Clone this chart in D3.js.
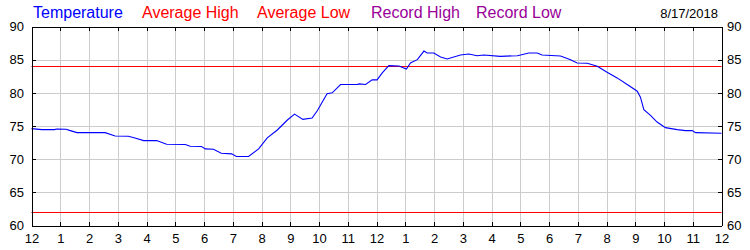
<!DOCTYPE html>
<html>
<head>
<meta charset="utf-8">
<script src="https://cdn.jsdelivr.net/npm/d3@7"></script>
<style>
  body { margin: 0; background: #fff; }
  svg { display: block; font-family: "Liberation Sans", Arial, sans-serif; }
  .grid line { stroke: #cccccc; shape-rendering: crispEdges; }
  .grid path { display: none; }
  .axis path, .axis line { stroke: #000; shape-rendering: crispEdges; }
  .axis text { font-size: 13px; fill: #000; font-family: "Liberation Sans", Arial, sans-serif; }
</style>
</head>
<body>
<div class="container"></div>
<script>
// data (hours since midnight, degrees F)
const hours = [0, 0.36, 0.8, 0.88, 1.2, 1.35, 1.58, 2.56, 2.91, 3.37, 3.6, 3.9, 4.35, 4.7, 5.35, 5.52,
  5.91, 6.05, 6.33, 6.6, 6.96, 7.13, 7.55, 7.9, 8.2, 8.55, 8.9, 9.15, 9.44, 9.76, 9.94, 10.28,
  10.46, 10.75, 11.33, 11.39, 11.62, 11.85, 12.02, 12.2, 12.43, 12.78, 13.04, 13.18, 13.42, 13.65,
  13.76, 13.99, 14.23, 14.46, 14.92, 15.21, 15.5, 15.73, 16.31, 16.9, 17.3, 17.59, 17.76, 18.4,
  18.75, 18.98, 19.33, 19.68, 20.02, 20.37, 20.72, 21.07, 21.18, 21.3, 21.53, 21.76, 22.05, 22.46,
  22.75, 22.98, 23.1, 24];
const temps = [74.6, 74.45, 74.45, 74.55, 74.5, 74.3, 74.0, 74.0, 73.5, 73.45, 73.2, 72.8, 72.8, 72.25, 72.2, 71.95,
  71.9, 71.55, 71.5, 70.9, 70.8, 70.4, 70.4, 71.55, 73.2, 74.4, 75.9, 76.8, 76.0, 76.2, 77.3, 79.85,
  80.0, 81.25, 81.25, 81.35, 81.25, 81.95, 81.95, 83.0, 84.1, 84.05, 83.6, 84.5, 85.0, 86.3,
  86.0, 86.0, 85.4, 85.1, 85.7, 85.85, 85.6, 85.7, 85.5, 85.6, 86.0, 86.0, 85.7, 85.55,
  85.0, 84.5, 84.45, 84.0, 83.1, 82.25, 81.25, 80.25, 79.35, 77.45, 76.6, 75.6, 74.75, 74.45,
  74.3, 74.3, 74.0, 73.9];
const avgHigh = 84;
const avgLow = 62;
const hourLabels = ["12","1","2","3","4","5","6","7","8","9","10","11",
                    "12","1","2","3","4","5","6","7","8","9","10","11","12"];
const tempTicks = [60, 65, 70, 75, 80, 85, 90];
const legendNames = ["Temperature", "Average High", "Average Low", "Record High", "Record Low"];
const legendColors = ["#0000ff", "#ff0000", "#ff0000", "#990099", "#990099"];
const legendX = [33, 142, 257, 371, 476];
const dateLabel = "8/17/2018";

const svg = d3.select(".container").append("svg")
  .attr("width", 750)
  .attr("height", 250);

// plot box
const plotLeft = 31.5, plotRight = 721.5, plotTop = 26.5, plotBottom = 225.5;

const x = d3.scaleLinear().domain([0, 24]).range([plotLeft, plotRight]);
const y = d3.scaleLinear().domain([60, 90]).range([plotBottom, plotTop]);

// gridlines
svg.append("g")
  .attr("class", "grid")
  .attr("transform", `translate(0, ${plotBottom})`)
  .call(d3.axisBottom(x).tickValues(d3.range(1, 24)).tickSize(-(plotBottom - plotTop)).tickFormat(""));
svg.append("g")
  .attr("class", "grid")
  .attr("transform", `translate(${plotLeft}, 0)`)
  .call(d3.axisLeft(y).tickValues(tempTicks.slice(1, -1)).tickSize(-(plotRight - plotLeft)).tickFormat(""));

// average lines
const avgLine = svg.append("g");
[avgHigh, avgLow].forEach(v => {
  avgLine.append("line")
    .attr("x1", plotLeft).attr("x2", plotRight)
    .attr("y1", Math.round(y(v)) + 0.5).attr("y2", Math.round(y(v)) + 0.5)
    .attr("stroke", "#ff0000")
    .attr("stroke-width", 1);
});

// temperature line
const line = d3.line()
  .x((d, i) => x(hours[i]))
  .y(d => y(d));
svg.append("path")
  .datum(temps)
  .attr("fill", "none")
  .attr("stroke", "#0000ff")
  .attr("stroke-width", 1.1)
  .attr("d", line);

// axes (ticks point inward)
svg.append("g")
  .attr("class", "axis")
  .attr("transform", `translate(0, ${plotBottom})`)
  .call(d3.axisBottom(x).tickValues(d3.range(0, 25)).tickSizeInner(-4).tickSizeOuter(0)
    .tickPadding(8).tickFormat((d, i) => hourLabels[i]));
svg.append("g")
  .attr("class", "axis")
  .attr("transform", `translate(0, ${plotTop})`)
  .call(d3.axisTop(x).tickValues(d3.range(0, 25)).tickSizeInner(-4).tickSizeOuter(0).tickFormat(""));
svg.append("g")
  .attr("class", "axis")
  .attr("transform", `translate(${plotLeft}, 0)`)
  .call(d3.axisLeft(y).tickValues(tempTicks).tickSizeInner(-4).tickSizeOuter(0).tickPadding(7.5));
svg.append("g")
  .attr("class", "axis")
  .attr("transform", `translate(${plotRight}, 0)`)
  .call(d3.axisRight(y).tickValues(tempTicks).tickSizeInner(-4).tickSizeOuter(0).tickPadding(5.5));

// legend
svg.selectAll(".legend")
  .data(legendNames)
  .enter()
  .append("text")
  .attr("class", "legend")
  .attr("x", (d, i) => legendX[i])
  .attr("y", 18)
  .attr("font-size", 16)
  .attr("fill", (d, i) => legendColors[i])
  .text(d => d);

svg.append("text")
  .attr("x", 718)
  .attr("y", 18)
  .attr("text-anchor", "end")
  .attr("font-size", 13)
  .attr("fill", "#000")
  .text(dateLabel);
</script>
</body>
</html>
